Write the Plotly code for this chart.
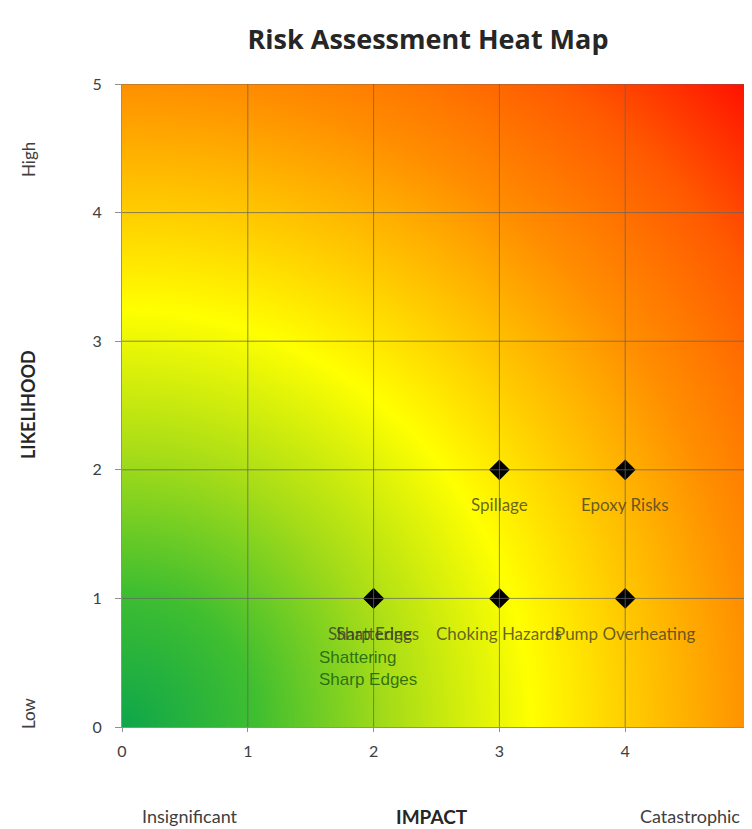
import numpy as np
import plotly.graph_objects as go

# ---- data ----
impact = [2, 2, 3, 4, 3, 4]
likelihood = [1, 1, 1, 1, 2, 2]
labels = ["Shattering", "Sharp Edges", "Choking Hazards", "Pump Overheating", "Spillage", "Epoxy Risks"]
overflow_labels = ["Shattering", "Sharp Edges"]
ticks = [0, 1, 2, 3, 4, 5]

# ---- background gradient (radial from the low/insignificant corner) ----
gx = np.linspace(0, 5, 121)
gy = np.linspace(0, 5, 121)
GX, GY = np.meshgrid(gx, gy)
R = np.sqrt(GX ** 2 + GY ** 2)

colorscale = [
    [0.00, "#0ea64b"],
    [0.15, "#3fbe30"],
    [0.30, "#a6dc18"],
    [0.46, "#ffff00"],
    [0.57, "#ffcc00"],
    [0.71, "#ff8e00"],
    [0.86, "#ff5a00"],
    [1.00, "#ff0f00"],
]

OFF = 8  # page body margin
W, H = 744, 821
L, T = 122 - OFF, 84 - OFF
pw, ph = 629, 643
Rm = W - L - pw
B = H - T - ph


def px(x):
    return (x - OFF - L) / pw


def py(y):
    return (T + ph - (y - OFF)) / ph


fig = go.Figure()
fig.add_trace(go.Heatmap(x=gx, y=gy, z=R, colorscale=colorscale, zsmooth="best",
                         showscale=False, hoverinfo="skip", zmin=0, zmax=np.sqrt(50)))

fig.add_trace(go.Scatter(x=impact, y=likelihood, mode="markers",
                         marker=dict(symbol="diamond", size=16, color="black"),
                         text=labels, hoverinfo="text", showlegend=False))

shapes = []
for v in ticks[1:]:
    shapes.append(dict(type="line", xref="x", yref="paper", x0=v, x1=v, y0=0, y1=1,
                       line=dict(color="rgba(100,100,100,0.75)", width=1), layer="above"))
    shapes.append(dict(type="line", xref="paper", yref="y", x0=0, x1=1, y0=v, y1=v,
                       line=dict(color="rgba(100,100,100,0.75)", width=1), layer="above"))

annotations = []
for xi, yi, lab in zip(impact, likelihood, labels):
    annotations.append(dict(x=xi, y=yi, xref="x", yref="y", text=lab, showarrow=False,
                            xanchor="center", yanchor="middle", yshift=-35,
                            font=dict(family="Lato", size=17, color="rgba(55,55,40,0.75)")))

annotations.append(dict(x=px(317), y=py(668.5), xref="paper", yref="paper",
                        xanchor="left", yanchor="middle", align="left", showarrow=False,
                        text="<br>".join(overflow_labels),
                        font=dict(family="Liberation Sans", size=17, color="rgba(25,95,15,0.85)")))

grey = "#404040"
annotations += [
    dict(x=px(28), y=py(405), text="<b>LIKELIHOOD</b>", textangle=-90,
         font=dict(family="Lato", size=18, color="#262626")),
    dict(x=px(28), y=py(160), text="High", textangle=-90,
         font=dict(family="Lato", size=17, color=grey)),
    dict(x=px(28), y=py(713), text="Low", textangle=-90,
         font=dict(family="Lato", size=17, color=grey)),
    dict(x=px(432), y=py(816), text="<b>IMPACT</b>",
         font=dict(family="Lato", size=19, color="#262626")),
    dict(x=px(190), y=py(816), text="Insignificant",
         font=dict(family="Lato", size=18, color=grey)),
    dict(x=px(690), y=py(816), text="Catastrophic",
         font=dict(family="Lato", size=18, color=grey)),
]
for a in annotations[-6:]:
    a.update(xref="paper", yref="paper", showarrow=False, xanchor="center", yanchor="middle")

fig.update_layout(
    width=W, height=H,
    margin=dict(l=L, r=Rm, t=T, b=B, autoexpand=False),
    paper_bgcolor="white", plot_bgcolor="white",
    title=dict(text="<b>Risk Assessment Heat Map</b>", xref="paper", x=px(428), xanchor="center",
               yref="container", y=1 - (40 - OFF) / H, yanchor="middle",
               font=dict(family="Open Sans", size=27, color="#262626")),
    xaxis=dict(range=[0, 5], tickvals=ticks, showgrid=False, zeroline=False,
               showline=True, linecolor="#909090", ticks="outside", ticklen=4, tickcolor="#909090",
               tickfont=dict(family="Lato", size=16, color=grey), ticklabelstandoff=6,
               ticklabeloverflow="allow", fixedrange=True),
    yaxis=dict(range=[0, 5], tickvals=ticks, showgrid=False, zeroline=False,
               showline=True, linecolor="#909090", ticks="outside", ticklen=6, tickcolor="#909090",
               tickfont=dict(family="Lato", size=16, color=grey), ticklabelstandoff=10,
               fixedrange=True),
    shapes=shapes,
    annotations=annotations,
)

fig.write_html("out.html")
